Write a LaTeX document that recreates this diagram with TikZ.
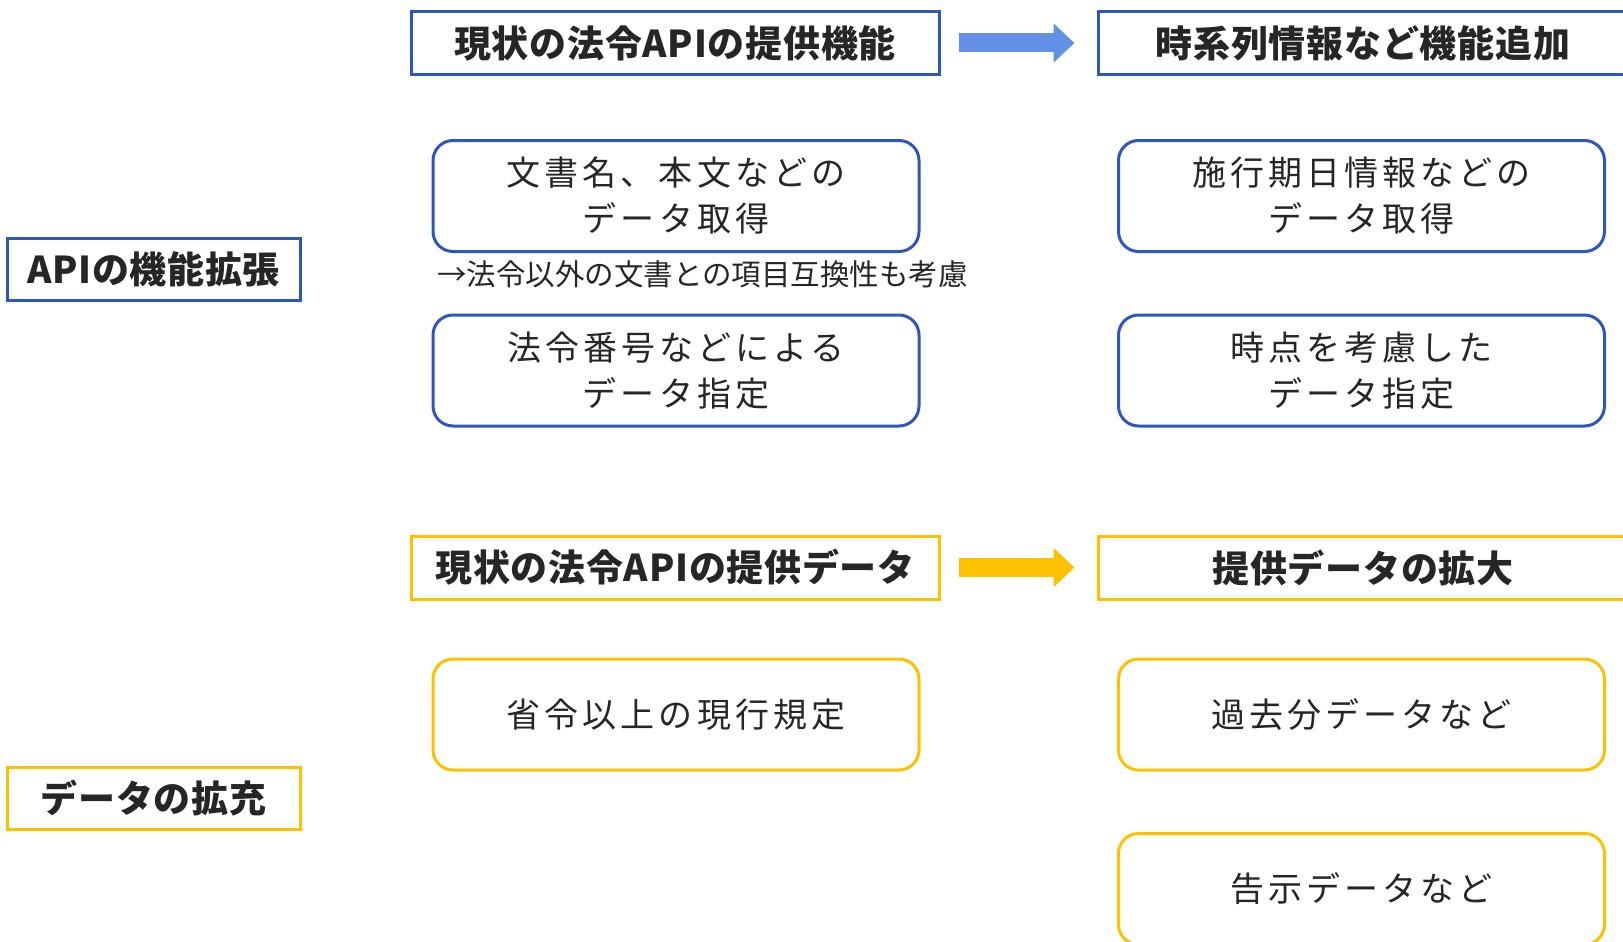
\documentclass[tikz,border=0pt]{standalone}
\usepackage{fontspec}
\setmainfont{Noto Sans CJK JP}
\newfontfamily\jpbody[LetterSpace=12]{Noto Sans CJK JP}
\newfontfamily\jphead[LetterSpace=2]{Noto Sans CJK JP}
\usetikzlibrary{arrows.meta}
\definecolor{bblue}{HTML}{2F56BE}
\definecolor{ablue}{HTML}{6190E6}
\definecolor{gold}{HTML}{FFC000}
\definecolor{ink}{HTML}{262626}
\tikzset{
  headbox/.style={draw, line width=3, minimum height=63, minimum width=528, inner sep=0,
    font=\jphead\bfseries\fontsize{37}{40}\selectfont, text=ink},
  sidebox/.style={draw, line width=3, minimum height=62, minimum width=293, inner sep=0,
    font=\jphead\bfseries\fontsize{37}{40}\selectfont, text=ink},
  itembox/.style={draw, line width=3, rounded corners=20, minimum width=486, minimum height=111,
    inner sep=0, align=center, font=\jpbody\fontsize{34}{46}\selectfont, text=ink},
  blockarrow/.style={line width=19, -{Triangle[length=21,width=38]}, shorten <=18, shorten >=22}
}
\begin{document}
\begin{tikzpicture}[x=1pt,y=-1pt]
\useasboundingbox (0,0) rectangle (1623,942);
% blue part
\node[headbox, bblue] (h1) at (675,43) {\color{ink}現状の法令APIの提供機能};
\node[headbox, bblue, minimum width=530] (h2) at (1363,43) {\color{ink}時系列情報など機能追加};
\draw[blockarrow, ablue] (h1.east) -- (h2.west);
\node[itembox, bblue] (b1) at (676,196) {\color{ink}文書名、本文などの\\\color{ink}データ取得};
\node[itembox, bblue] (b2) at (1361.5,196) {\color{ink}施行期日情報などの\\\color{ink}データ取得};
\node[anchor=west, inner sep=0, text=ink, font=\fontsize{29.5}{32}\selectfont] (note) at (437,274) {→法令以外の文書との項目互換性も考慮};
\node[itembox, bblue] (b3) at (676,370.5) {\color{ink}法令番号などによる\\\color{ink}データ指定};
\node[itembox, bblue] (b4) at (1361.5,370.5) {\color{ink}時点を考慮した\\\color{ink}データ指定};
\node[sidebox, bblue] (s1) at (153.5,269.5) {\color{ink}APIの機能拡張};
% gold part
\node[headbox, gold] (h3) at (675,567.5) {\color{ink}現状の法令APIの提供データ};
\node[headbox, gold, minimum width=530] (h4) at (1363,567.5) {\color{ink}提供データの拡大};
\draw[blockarrow, gold] (h3.east) -- (h4.west);
\node[itembox, gold] (c1) at (676,714.5) {\color{ink}省令以上の現行規定};
\node[itembox, gold] (c2) at (1361.5,714.5) {\color{ink}過去分データなど};
\node[itembox, gold] (c3) at (1361.5,889) {\color{ink}告示データなど};
\node[sidebox, gold] (s2) at (153.5,798.5) {\color{ink}データの拡充};
\end{tikzpicture}
\end{document}
